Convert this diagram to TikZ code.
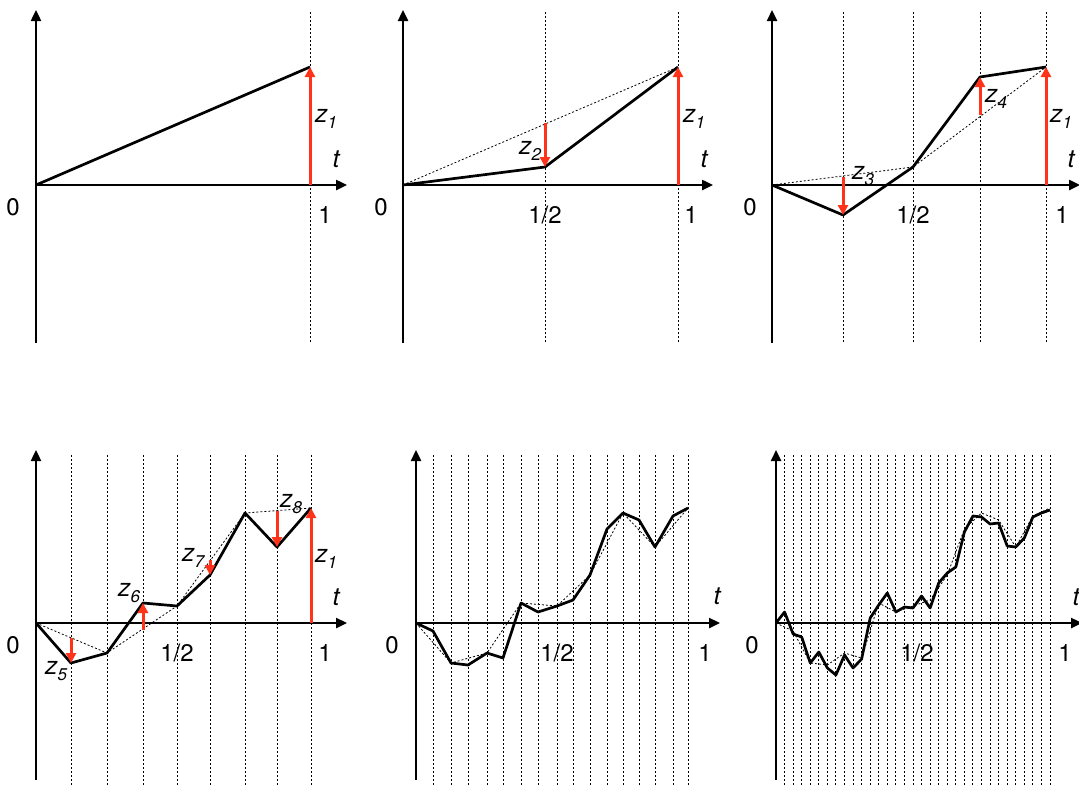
\documentclass[tikz,border=0pt]{standalone}
\usepackage{fontspec}
\setmainfont{TeX Gyre Heros}
\usetikzlibrary{arrows.meta}
\definecolor{zred}{RGB}{255,51,25}
\tikzset{
  axis/.style={line width=2.4pt,-{Triangle[width=10pt,length=11pt]}},
  gridln/.style={line width=0.9pt,dash pattern=on 2pt off 2pt},
  approx/.style={line width=0.8pt,dash pattern=on 2pt off 2pt},
  walk/.style={line width=2.7pt,line join=round},
  zarrow/.style={zred,line width=3pt,-{Triangle[width=10pt,length=10pt]}},
  num/.style={font=\fontsize{24}{24}\selectfont,inner sep=0pt},
  lab/.style={font=\fontsize{25}{25}\selectfont\itshape,inner sep=0pt},
}
\newcommand{\zl}[1]{z\raisebox{-0.4ex}{\fontsize{17}{17}\selectfont #1}}
\begin{document}
\begin{tikzpicture}[x=1pt,y=-1pt]
\useasboundingbox (0,0) rectangle (1079,785);

% ---------- Panel 1 ----------
\draw[gridln] (310,12) -- (310,343);
\draw[axis] (36,343) -- (36,10);
\draw[axis] (36,185) -- (347,185);
\draw[walk] (36,185) -- (310,67);
\draw[zarrow] (310,185) -- (310,67);
\node[num] (p1o) at (13,207) {0};
\node[num] (p1one) at (325,215) {1};
\node[lab] (p1t) at (336,159) {t};
\node[lab] (p1z1) at (326,119) {\zl{1}};

% ---------- Panel 2 ----------
\foreach \x in {545,678} \draw[gridln] (\x,12) -- (\x,343);
\draw[approx] (403,185) -- (678,67);
\draw[axis] (403,343) -- (403,10);
\draw[axis] (403,185) -- (713,185);
\draw[walk] (403,185) -- (545,167) -- (678,67);
\draw[zarrow] (678,185) -- (678,67);
\draw[zarrow] (545,123) -- (545,167);
\node[num] (p2o) at (381,207) {0};
\node[num] (p2half) at (545,215) {1/2};
\node[num] (p2one) at (691,215) {1};
\node[lab] (p2t) at (704,159) {t};
\node[lab] (p2z2) at (530,151) {\zl{2}};
\node[lab] (p2z1) at (694,119) {\zl{1}};

% ---------- Panel 3 ----------
\foreach \x in {843,913,980,1046} \draw[gridln] (\x,12) -- (\x,343);
\draw[approx] (772,185) -- (913,167) -- (1046,67);
\draw[axis] (772,343) -- (772,10);
\draw[axis] (772,185) -- (1080,185);
\draw[walk] (772,185) -- (843,215) -- (913,167) -- (980,77) -- (1046,67);
\draw[zarrow] (1046,185) -- (1046,67);
\draw[zarrow] (843,177) -- (843,215);
\draw[zarrow] (980,115) -- (980,77);
\node[num] (p3o) at (750,207) {0};
\node[num] (p3half) at (913,215) {1/2};
\node[num] (p3one) at (1062,215) {1};
\node[lab] (p3t) at (1071,159) {t};
\node[lab] (p3z3) at (863,176) {\zl{3}};
\node[lab] (p3z4) at (996,99) {\zl{4}};
\node[lab] (p3z1) at (1061,119) {\zl{1}};

% ---------- Panel 4 ----------
\foreach \x in {71,107,143,177,210,245,277,311} \draw[gridln] (\x,455) -- (\x,785);
\draw[approx] (36,623) -- (107,653) -- (177,606) -- (245,513) -- (311,508);
\draw[axis] (36,780) -- (36,450);
\draw[axis] (36,623) -- (347,623);
\draw[walk] (36,623) -- (71,663) -- (107,653) -- (143,603) -- (177,606)
  -- (210,575) -- (245,513) -- (277,547) -- (311,508);
\draw[zarrow] (311,623) -- (311,508);
\draw[zarrow] (71,638) -- (71,663);
\draw[zarrow] (143,630) -- (143,603);
\draw[zarrow] (210,560) -- (210,575);
\draw[zarrow] (277,511) -- (277,547);
\node[num] (p4o) at (13,645) {0};
\node[num] (p4half) at (177,653) {1/2};
\node[num] (p4one) at (325,653) {1};
\node[lab] (p4t) at (336,597) {t};
\node[lab] (p4z5) at (56,671) {\zl{5}};
\node[lab] (p4z6) at (129,593) {\zl{6}};
\node[lab] (p4z7) at (193,558) {\zl{7}};
\node[lab] (p4z8) at (291,504) {\zl{8}};
\node[lab] (p4z1) at (326,559) {\zl{1}};

% ---------- Panel 5 ----------
\foreach \x in {433,451,468,487,503,521,538,557,573,590,607,623,639,655,673,688}
  \draw[gridln] (\x,455) -- (\x,785);
\draw[approx] (416,623) -- (451,663) -- (487,653) -- (521,603) -- (557,606)
  -- (590,575) -- (623,513) -- (655,547) -- (688,508);
\draw[axis] (416,780) -- (416,450);
\draw[axis] (416,623) -- (720,623);
\draw[walk] (416,623) -- (433,631) -- (451,663) -- (468,665) -- (487,653)
  -- (503,658) -- (521,603) -- (538,612) -- (557,606) -- (573,600)
  -- (590,575) -- (607,529) -- (623,513) -- (639,520) -- (655,547)
  -- (673,516) -- (688,508);
\node[num] (p5o) at (392,645) {0};
\node[num] (p5half) at (557,653) {1/2};
\node[num] (p5one) at (705,653) {1};
\node[lab] (p5t) at (717,596) {t};

% ---------- Panel 6 ----------
\foreach \k in {1,...,32} \draw[gridln] ({776+8.5625*\k},455) -- ({776+8.5625*\k},785);
\draw[approx] (776,623) \foreach \y [count=\k] in
  {631,663,665,653,658,603,612,606,600,575,529,513,520,547,516,508}
  { -- ({776+17.125*\k},\y) };
\draw[axis] (776,780) -- (776,450);
\draw[axis] (776,623) -- (1082,623);
\draw[walk] (776,623) \foreach \y [count=\k] in
  {612,634,637,663,652,668,675,655,668,659,618,605,593,612,607,608,
   596,608,583,573,567,532,516,517,524,523,546,547,538,517,513,510}
  { -- ({776+8.5625*\k},\y) };
\node[num] (p6o) at (752,645) {0};
\node[num] (p6half) at (917,653) {1/2};
\node[num] (p6one) at (1065,653) {1};
\node[lab] (p6t) at (1076,597) {t};
\end{tikzpicture}
\end{document}
